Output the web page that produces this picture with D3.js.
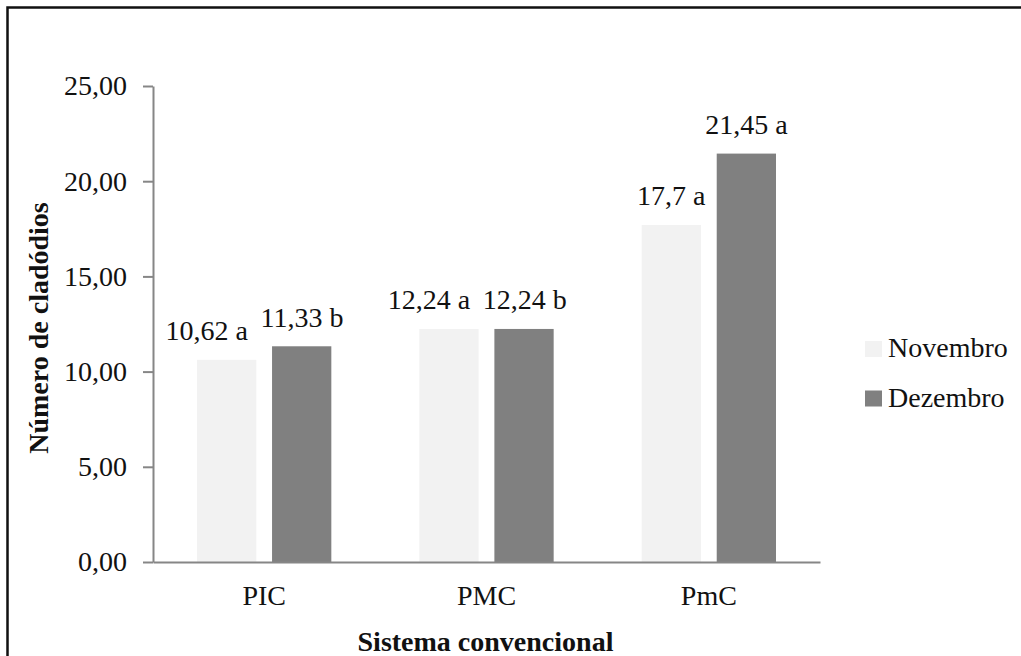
<!DOCTYPE html>
<html>
<head>
<meta charset="utf-8">
<script src="https://cdn.jsdelivr.net/npm/d3@7"></script>
<style>
  html, body { margin: 0; padding: 0; background: #fff; }
  svg { display: block; }
  text { font-family: "Liberation Serif", "Times New Roman", serif; fill: #111; }
</style>
</head>
<body>
<svg id="chart" width="1021" height="656"></svg>
<script>
// Número de cladódios por sistema (convencional), novembro e dezembro
const categories = ["PIC", "PMC", "PmC"];
const seriesNames = ["Novembro", "Dezembro"];
const novembro = [10.62, 12.24, 17.7];
const dezembro = [11.33, 12.24, 21.45];
const novembroLabels = ["10,62 a", "12,24 a", "17,7 a"];
const dezembroLabels = ["11,33 b", "12,24 b", "21,45 a"];
const yTicks = [0, 5, 10, 15, 20, 25];
const colors = ["#f2f2f2", "#808080"];

const svg = d3.select("#chart");
const fontSize = 28;

// outer frame (top and left edges)
svg.append("path")
  .attr("d", "M7.5,656 L7.5,7.5 L1021,7.5")
  .attr("fill", "none").attr("stroke", "#111").attr("stroke-width", 2.5);

const plot = { left: 153, right: 820, top: 86, bottom: 562 };

const x = d3.scaleBand().domain(categories).range([plot.left, plot.right]);
const bw = x.bandwidth();
const xs = d3.scaleBand().domain(seriesNames).range([44, bw - 44]).paddingInner(0.21).paddingOuter(0);
const y = d3.scaleLinear().domain([0, 25]).range([plot.bottom, plot.top]);

const fmt = v => d3.format(".2f")(v).replace(".", ",");

// bars and value labels
const seriesData = [novembro, dezembro];
const seriesLabels = [novembroLabels, dezembroLabels];
const labelGroups = [];
seriesNames.forEach((s, si) => {
  const g = svg.append("g");
  g.selectAll("rect").data(categories).join("rect")
    .attr("x", c => x(c) + xs(s))
    .attr("width", xs.bandwidth())
    .attr("y", (c, i) => y(seriesData[si][i]))
    .attr("height", (c, i) => y(0) - y(seriesData[si][i]))
    .attr("fill", colors[si]);
  const labels = g.selectAll("text").data(categories).join("text")
    .attr("x", c => x(c) + xs(s) + xs.bandwidth() / 2)
    .attr("y", (c, i) => y(seriesData[si][i]) - 19.5)
    .attr("text-anchor", "middle")
    .attr("font-size", fontSize)
    .text((c, i) => seriesLabels[si][i]);
  labelGroups.push(labels.nodes());
});

// keep neighbouring labels of the same category from colliding
categories.forEach((c, i) => {
  const a = labelGroups[0][i], b = labelGroups[1][i];
  const ba = a.getBBox(), bb = b.getBBox();
  const vOverlap = ba.y < bb.y + bb.height && bb.y < ba.y + ba.height;
  const need = ba.x + ba.width + 12 - bb.x;
  if (vOverlap && need > 0) {
    const dxA = Math.min(need, 20);
    a.setAttribute("x", +a.getAttribute("x") - dxA);
    b.setAttribute("x", +b.getAttribute("x") + (need - dxA));
  }
});

// y axis
const yAxis = svg.append("g")
  .attr("transform", `translate(${plot.left},0)`)
  .call(d3.axisLeft(y).tickValues(yTicks).tickFormat(fmt).tickSize(10).tickSizeOuter(0).tickPadding(16));
yAxis.select(".domain").attr("stroke", "#868686").attr("stroke-width", 2);
yAxis.selectAll(".tick line").attr("stroke", "#868686").attr("stroke-width", 2);
yAxis.selectAll(".tick text").attr("font-size", fontSize).attr("font-family", "Liberation Serif").attr("fill", "#111");

// x axis
const xAxis = svg.append("g")
  .attr("transform", `translate(0,${plot.bottom})`)
  .call(d3.axisBottom(x).tickSize(0).tickPadding(23));
xAxis.select(".domain").attr("stroke", "#868686").attr("stroke-width", 2);
xAxis.selectAll(".tick text").attr("font-size", fontSize).attr("font-family", "Liberation Serif").attr("fill", "#111");

// axis titles
svg.append("text")
  .attr("transform", `translate(48,${(plot.top + plot.bottom) / 2 + 4}) rotate(-90)`)
  .attr("text-anchor", "middle")
  .attr("font-size", fontSize).attr("font-weight", "bold")
  .text("Número de cladódios");
svg.append("text")
  .attr("x", (plot.left + plot.right) / 2 - 1)
  .attr("y", 651)
  .attr("text-anchor", "middle")
  .attr("font-size", fontSize).attr("font-weight", "bold")
  .text("Sistema convencional");

// legend
const legend = svg.append("g").attr("transform", "translate(865,341)");
seriesNames.forEach((s, i) => {
  const row = legend.append("g").attr("transform", `translate(0,${i * 49.5})`);
  row.append("rect").attr("width", 17).attr("height", 16).attr("fill", colors[i]);
  row.append("text").attr("x", 23).attr("y", 16).attr("font-size", fontSize).text(s);
});
</script>
</body>
</html>
